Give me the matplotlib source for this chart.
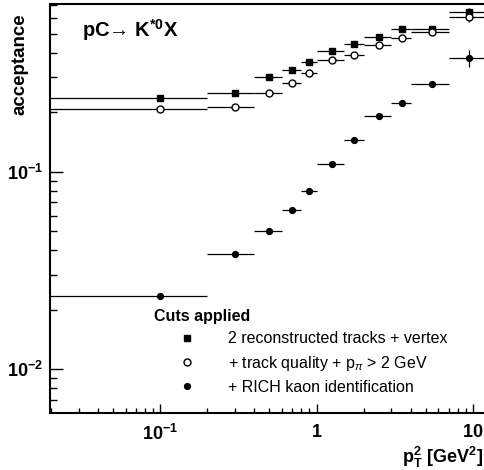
import numpy as np
import matplotlib
matplotlib.use('Agg')
import matplotlib.pyplot as plt
from matplotlib.lines import Line2D
from matplotlib.ticker import LogLocator, FuncFormatter, NullFormatter

plt.rcParams['font.family'] = ['Liberation Sans', 'DejaVu Sans']
plt.rcParams['mathtext.fontset'] = 'custom'
plt.rcParams['mathtext.rm'] = 'Liberation Sans'
plt.rcParams['mathtext.bf'] = 'Liberation Sans:bold'
plt.rcParams['mathtext.it'] = 'Liberation Sans:italic'

# pT^2 bins [GeV^2]
bin_lo = np.array([0.0, 0.2, 0.4, 0.6, 0.8, 1.0, 1.5, 2.0, 3.0, 4.0, 7.0])
bin_hi = np.array([0.2, 0.4, 0.6, 0.8, 1.0, 1.5, 2.0, 3.0, 4.0, 7.0, 12.0])
pt2 = np.array([0.1, 0.3, 0.5, 0.7, 0.9, 1.25, 1.75, 2.5, 3.5, 5.5, 9.5])

# acceptance after each set of cuts
acc_vertex = [0.235, 0.251, 0.301, 0.326, 0.359, 0.409, 0.444, 0.479, 0.527, 0.526, 0.646]
err_vertex = [0.003, 0.004, 0.004, 0.004, 0.005, 0.005, 0.006, 0.007, 0.008, 0.010, 0.030]
acc_quality = [0.207, 0.213, 0.251, 0.282, 0.317, 0.366, 0.390, 0.438, 0.473, 0.507, 0.608]
err_quality = [0.003, 0.004, 0.004, 0.004, 0.005, 0.005, 0.006, 0.007, 0.008, 0.010, 0.035]
acc_rich = [0.0235, 0.0385, 0.0499, 0.0643, 0.080, 0.110, 0.144, 0.191, 0.223, 0.279, 0.377]
err_rich = [0.0005, 0.0008, 0.001, 0.0012, 0.0015, 0.002, 0.003, 0.003, 0.004, 0.008, 0.037]

labels = ['2 reconstructed tracks + vertex',
          r'+ track quality + p$_{\pi}$ > 2 GeV',
          '+ RICH kaon identification']

xerr = [pt2 - np.maximum(bin_lo, 1e-4), bin_hi - pt2]

fig = plt.figure(figsize=(4.84, 4.70), dpi=100)
ax = fig.add_axes([0.1033, 0.1219, 0.8967, 0.8696])
ax.set_xscale('log')
ax.set_yscale('log')

eb = dict(fmt='none', ecolor='black', elinewidth=0.9, capsize=0)
ax.errorbar(pt2, acc_vertex, yerr=err_vertex, xerr=xerr, **eb)
ax.errorbar(pt2, acc_quality, yerr=err_quality, xerr=xerr, **eb)
ax.errorbar(pt2, acc_rich, yerr=err_rich, xerr=xerr, **eb)
ax.plot(pt2, acc_vertex, 's', color='black', ms=4.3, zorder=3)
ax.plot(pt2, acc_quality, 'o', mfc='white', mec='black', mew=1.0, ms=5.0, zorder=4)
ax.plot(pt2, acc_rich, 'o', color='black', ms=4.2, zorder=3)

ax.set_xlim(0.0197, 11.8)
ax.set_ylim(0.00603, 0.706)


def log_fmt(v, pos):
    e = int(round(np.log10(v)))
    if e == 0:
        return r'$\mathbf{1}$'
    if e == 1:
        return r'$\mathbf{10}$'
    return r'$\mathbf{10^{%d}}$' % e


for axis in (ax.xaxis, ax.yaxis):
    axis.set_major_locator(LogLocator(base=10))
    axis.set_minor_locator(LogLocator(base=10, subs=np.arange(2, 10)))
    axis.set_major_formatter(FuncFormatter(log_fmt))
    axis.set_minor_formatter(NullFormatter())

ax.tick_params(which='both', direction='in', top=False, right=False, width=1, labelsize=13)
ax.tick_params(axis='x', which='major', length=6.5, pad=8)
ax.tick_params(axis='x', which='minor', length=3.6)
ax.tick_params(axis='y', which='major', length=9.4, pad=5)
ax.tick_params(axis='y', which='minor', length=5)

for s in ax.spines.values():
    s.set_linewidth(1.5)
ax.spines['right'].set_visible(False)

ax.text(0.074, 0.936, r'pC→ K$^{\mathbf{*0}}$X', transform=ax.transAxes,
        fontsize=14.5, fontweight='bold', va='center', ha='left')

fig.text(0.0413, 0.972, 'acceptance', rotation=90, ha='center', va='top',
         fontsize=13.5, fontweight='bold')
fig.text(0.998, 0.0149, r'$\mathbf{p_{T}^{2}}$ [GeV$^{\mathbf{2}}$]', ha='right', va='baseline',
         fontsize=13, fontweight='bold')

handles = [Line2D([], [], ls='none', marker='s', color='black', ms=4.3),
           Line2D([], [], ls='none', marker='o', mfc='white', mec='black', mew=1.0, ms=5.0),
           Line2D([], [], ls='none', marker='o', color='black', ms=4.2)]
leg = ax.legend(handles, labels, title='Cuts applied', loc='upper left',
                bbox_to_anchor=(145.5 / 484, 1 - 300.5 / 470), bbox_transform=fig.transFigure,
                frameon=False, fontsize=11.5, handlelength=4.1, handletextpad=0.5,
                labelspacing=0.45, borderpad=0.55, borderaxespad=0, alignment='left',
                title_fontproperties={'weight': 'bold', 'size': 11.5})

fig.savefig('out.png', dpi=100)
